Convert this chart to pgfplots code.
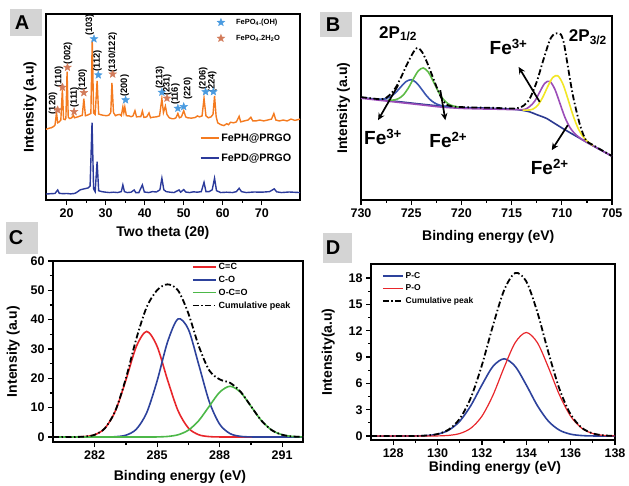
\documentclass[border=0pt]{standalone}
\usepackage{fontspec}
\setmainfont{Liberation Sans}
\usepackage{pgfplots}
\pgfplotsset{compat=1.18}
\usetikzlibrary{arrows.meta}

\definecolor{xorange}{HTML}{F47B20}
\definecolor{xnavy}{HTML}{2B3A9B}
\definecolor{starblue}{HTML}{4A9BE0}
\definecolor{starbrown}{HTML}{D27B5A}
\definecolor{bnavy}{HTML}{2B3990}
\definecolor{bblue}{HTML}{3A55B0}
\definecolor{bgreen}{HTML}{5DBB46}
\definecolor{bpurple}{HTML}{9B4DB8}
\definecolor{byellow}{HTML}{F2E625}
\definecolor{cred}{HTML}{E8262B}
\definecolor{cblue}{HTML}{2D429C}
\definecolor{cgreen}{HTML}{4CB848}
\definecolor{lettergray}{HTML}{D4D4D4}

% filled five-point star
\pgfdeclareplotmark{fstar}{%
  \pgfpathmoveto{\pgfpointpolar{90}{\pgfplotmarksize}}%
  \pgfpathlineto{\pgfpointpolar{126}{0.42\pgfplotmarksize}}%
  \pgfpathlineto{\pgfpointpolar{162}{\pgfplotmarksize}}%
  \pgfpathlineto{\pgfpointpolar{198}{0.42\pgfplotmarksize}}%
  \pgfpathlineto{\pgfpointpolar{234}{\pgfplotmarksize}}%
  \pgfpathlineto{\pgfpointpolar{270}{0.42\pgfplotmarksize}}%
  \pgfpathlineto{\pgfpointpolar{306}{\pgfplotmarksize}}%
  \pgfpathlineto{\pgfpointpolar{342}{0.42\pgfplotmarksize}}%
  \pgfpathlineto{\pgfpointpolar{18}{\pgfplotmarksize}}%
  \pgfpathlineto{\pgfpointpolar{54}{0.42\pgfplotmarksize}}%
  \pgfpathclose
  \pgfusepathqfillstroke
}

\pgfplotsset{
  panel/.style={
    scale only axis, anchor=south west, clip=false,
    axis line style={line width=1.5pt},
    tick align=outside, tick pos=left,
    major tick length=5pt, minor tick length=3pt,
    major tick style={line width=1.3pt, black},
    minor tick style={line width=1.2pt, black},
    tick label style={font=\fontsize{12.5}{13}\selectfont\bfseries},
    /pgf/number format/assume math mode=true,
    label style={font=\fontsize{14}{15}\selectfont\bfseries},
    xlabel style={anchor=center},
    ylabel style={anchor=center},
    legend cell align=left,
  },
  cum/.style={black, line width=1.8pt, dash pattern=on 6pt off 2.5pt on 1.5pt off 2.5pt, smooth},
  fit/.style={line width=1.6pt, smooth},
  linelegend/.style={legend image code/.code={\draw[##1] (0pt,0pt) -- (#1,0pt);}},
}
\tikzset{
  peaklabel/.style={rotate=90, anchor=west, inner sep=0pt, font=\fontsize{9.3}{10}\selectfont\bfseries},
  felabel/.style={font=\fontsize{19}{20}\selectfont\bfseries},
  fearrow/.style={line width=1.7pt, -{Stealth[length=7pt,width=6.5pt]}},
}

\begin{document}
\begin{tikzpicture}
\useasboundingbox (0pt,0pt) rectangle (629pt,-486pt);

% panel letters
\fill[lettergray] (10pt,-9pt) rectangle (42pt,-36pt);
\node[font=\fontsize{20}{20}\selectfont\bfseries] at (22pt,-23pt) {A};
\fill[lettergray] (320pt,-12pt) rectangle (352pt,-37pt);
\node[font=\fontsize{20}{20}\selectfont\bfseries] at (333pt,-25pt) {B};
\fill[lettergray] (6pt,-222pt) rectangle (38pt,-254pt);
\node[font=\fontsize{20}{20}\selectfont\bfseries] at (16pt,-238pt) {C};
\fill[lettergray] (323pt,-233pt) rectangle (352pt,-263pt);
\node[font=\fontsize{20}{20}\selectfont\bfseries] at (333pt,-248pt) {D};

% ---------------- A: XRD ----------------
\begin{axis}[panel, at={(46pt,-200pt)}, width=254pt, height=186pt,
  xmin=14.7, xmax=79.8, ymin=0, ymax=100,
  xtick={20,30,...,70}, minor x tick num=1, ytick=\empty,
  xlabel={Two theta (2θ)}, ylabel={Intensity (a.u)},
  xlabel style={at={(axis description cs:0.46,-0.176)}},
  ylabel style={at={(axis description cs:-0.063,0.5)}},
  linelegend=18pt,
  legend style={at={(axis description cs:0.605,0.37)}, anchor=north west,
    draw=none, fill=none, inner sep=0pt,
    font=\fontsize{10.8}{12}\selectfont\bfseries, row sep=7pt},
]
\addplot[xorange, line width=1.4pt, sharp plot] coordinates {
(14.7,38.0) (15.5,38.6) (16.0,38.8) (16.5,39.3) (17.0,40.2) (17.4,47.0) (17.7,41.5)
(18.1,42.0) (18.5,43.0) (18.9,59.5) (19.2,43.5) (19.6,43.2) (19.8,44.0) (20.1,69.0)
(20.4,44.5) (20.8,43.8) (21.3,44.2) (21.7,45.5) (22.0,44.2) (22.5,44.5) (23.0,44.8)
(23.5,45.2) (24.0,45.5) (24.4,54.5) (24.8,45.3) (25.5,45.8) (26.2,46.5) (26.55,86.0)
(26.9,46.8) (27.3,46.0) (27.8,64.0) (28.2,46.2) (28.8,45.8) (29.5,45.5) (30.2,45.3)
(30.8,45.6) (31.3,47.0) (31.6,63.0) (32.0,47.0) (32.5,45.3) (33.0,45.8) (33.6,46.0)
(34.0,45.3) (34.4,50.0) (34.65,47.0) (34.9,50.0) (35.3,45.3) (36.0,45.2) (36.5,44.8)
(37.0,45.2) (37.5,48.0) (37.9,44.7) (38.5,44.8) (39.0,44.8) (39.4,47.8) (39.8,44.4)
(40.5,44.7) (41.1,46.8) (41.5,44.2) (42.0,44.5) (43.0,44.7) (43.8,45.2) (44.4,54.5)
(44.8,47.0) (45.3,50.5) (45.7,46.0) (46.3,44.2) (47.0,43.7) (47.5,43.7) (48.0,44.2)
(48.5,46.5) (48.9,44.2) (49.4,44.7) (50.0,48.0) (50.5,44.7) (51.0,44.2) (52.0,44.0)
(53.0,44.4) (53.5,45.2) (54.0,44.7) (54.7,45.2) (55.2,54.7) (55.7,45.2) (56.3,44.2)
(57.0,44.7) (57.5,46.0) (57.9,56.0) (58.3,45.0) (58.7,41.5) (59.5,40.5) (60.3,40.0)
(61.0,41.0) (61.5,40.5) (62.0,41.8) (62.8,41.5) (63.5,42.0) (64.2,45.0) (64.6,42.0)
(65.5,42.5) (66.5,43.0) (67.2,44.5) (67.7,42.5) (68.5,42.5) (69.5,43.0) (70.5,42.5)
(71.5,43.0) (72.5,43.5) (73.1,46.5) (73.6,43.0) (74.5,42.5) (75.5,43.0) (76.5,42.5)
(77.5,43.5) (78.5,42.8) (79.8,43.5)
};
\addlegendentry{FePH@PRGO}
\addplot[xnavy, line width=1.4pt, sharp plot] coordinates {
(14.7,3.2) (16.0,3.4) (17.0,3.5) (17.7,5.4) (18.1,3.6) (19.0,3.4) (20.0,3.5)
(21.0,3.3) (22.0,3.5) (22.5,4.0) (23.5,5.5) (24.5,6.0) (25.5,6.5) (26.0,7.5)
(26.5,41.6) (26.9,6.0) (27.3,4.5) (27.8,20.6) (28.2,5.0) (29.0,4.5) (30.0,4.2)
(31.0,4.0) (32.0,4.2) (33.0,4.0) (34.0,4.5) (34.4,8.1) (34.8,4.5) (35.5,4.0)
(36.5,4.2) (37.3,5.4) (37.7,4.0) (38.5,4.0) (39.4,8.1) (39.9,4.3) (41.0,4.0)
(42.0,4.5) (43.0,4.3) (43.9,5.5) (44.4,11.7) (44.9,5.5) (45.5,4.5) (46.5,4.2)
(47.5,4.0) (48.8,5.4) (49.2,4.2) (50.0,5.6) (50.5,4.3) (51.5,4.0) (52.5,4.4)
(53.5,4.2) (54.5,4.5) (55.2,9.5) (55.7,4.5) (56.5,4.5) (57.3,5.5) (57.9,11.7)
(58.4,5.0) (59.5,4.0) (61.0,4.2) (62.5,4.0) (63.5,4.5) (64.2,6.3) (64.8,4.5)
(66.0,4.0) (68.0,4.3) (70.0,4.2) (72.0,4.5) (73.2,6.0) (73.8,4.4) (75.0,4.0)
(77.0,4.3) (79.8,4.0)
};
\addlegendentry{FePD@PRGO}
\end{axis}

% A: phase markers, their legend and the hkl labels
\begin{axis}[scale only axis, anchor=south west, at={(46pt,-200pt)}, width=254pt, height=186pt,
  xmin=14.7, xmax=79.8, ymin=0, ymax=100, hide axis, clip=false,
  legend image code/.code={\path (0pt,0pt) (16pt,0pt); \draw[#1] plot coordinates {(3pt,0pt)};},
  legend style={at={(axis description cs:0.673,0.985)}, anchor=north west,
    draw=none, fill=none, inner sep=0pt,
    font=\fontsize{7.5}{8}\selectfont\bfseries, row sep=5pt},
  legend cell align=left,
]
\addplot[only marks, mark=fstar, mark size=4pt, draw=starblue, fill=starblue] coordinates {
(27.0,86.6) (28.1,67.2) (35.1,53.8) (44.4,57.9) (48.5,49.3) (50.0,50.2) (55.6,58.2) (57.6,58.2)
};
\addlegendentry{FePO\textsubscript{4}.(OH)}
\addplot[only marks, mark=fstar, mark size=4pt, draw=starbrown, fill=starbrown] coordinates {
(17.7,48.4) (18.9,60.6) (20.2,71.3) (21.9,47.5) (24.4,57.7) (31.8,67.7) (45.7,54.7)
};
\addlegendentry{FePO\textsubscript{4}.2H\textsubscript{2}O}
\node[peaklabel] at (axis cs:16.5,46) {(120)};
\node[peaklabel] at (axis cs:18.0,60.5) {(110)};
\node[peaklabel] at (axis cs:20.3,73) {(002)};
\node[peaklabel] at (axis cs:22.0,49.5) {(111)};
\node[peaklabel] at (axis cs:24.1,58.5) {(120)};
\node[peaklabel] at (axis cs:25.9,88.2) {(103)};
\node[peaklabel] at (axis cs:27.9,69) {(112)};
\node[peaklabel] at (axis cs:31.8,68.5) {(130/122)};
\node[peaklabel] at (axis cs:34.9,55.5) {(200)};
\node[peaklabel] at (axis cs:43.9,60) {(213)};
\node[peaklabel] at (axis cs:45.8,56) {(231)};
\node[peaklabel] at (axis cs:47.9,51) {(116)};
\node[peaklabel] at (axis cs:51.1,54) {(220)};
\node[peaklabel] at (axis cs:55.0,59.5) {(206)};
\node[peaklabel] at (axis cs:57.3,57.5) {(224)};
\end{axis}

% ---------------- B: Fe 2p ----------------
\begin{axis}[panel, at={(361pt,-200pt)}, width=251pt, height=184pt,
  xmin=705, xmax=730, x dir=reverse, ymin=0, ymax=100,
  xtick={705,710,...,730}, minor x tick num=1, ytick=\empty,
  xlabel={Binding energy (eV)}, ylabel={Intensity (a.u)},
  xlabel style={at={(axis description cs:0.507,-0.203)}},
  ylabel style={at={(axis description cs:-0.07,0.5)}},
]
\addplot[bnavy, fit] coordinates {
(730,55.7) (728,54.5) (726,53.3) (724,52.1) (722,51.0) (720,50.3) (718,50.0)
(716,49.7) (715,49.4) (714,48.8) (713.2,47.9) (712.5,46.4) (712,45.4) (711.5,44.3)
(711,42.6) (710.5,40.9) (710,39.2) (709,36.0) (708,32.9) (707,29.8) (706,26.8) (705,23.8)
};
\addplot[bpurple, fit] coordinates {
(730,55.3) (728,54.1) (726,52.9) (724,51.7) (722,50.5) (720,49.8) (718,49.5)
(716,49.3) (715,49.1) (714.7,49.1) (714.2,49.14) (713.7,49.23) (713.2,50.77)
(712.7,53.68) (712.2,58.66) (711.7,63.41) (711.2,64.5) (710.7,60.31) (710.2,52.76)
(709.7,45.08) (709.2,39.47) (708.7,36.03) (708.2,33.74) (707.7,31.95) (707,29.8)
(706,26.8) (705,23.8)
};
\addplot[bblue, fit] coordinates {
(728.5,54.9) (728,54.84) (727.5,55.18) (727,56.35) (726.5,58.61) (726,61.68)
(725.5,64.42) (725,65.36) (724.5,63.83) (724,60.51) (723.5,56.85) (723,54.0)
(722.5,52.24) (722,51.31) (721.5,50.88) (721,50.62)
};
\addplot[bgreen, fit] coordinates {
(727.3,54.23) (726.8,54.3) (726.3,55.02) (725.8,57.0) (725.3,60.71) (724.8,65.67)
(724.3,70.12) (723.8,71.76) (723.3,69.53) (722.8,64.5) (722.3,58.95) (721.8,54.7)
(721.3,52.25) (720.8,51.06) (720.3,50.53)
};
\addplot[byellow, fit] coordinates {
(713.9,48.87) (713.4,48.85) (712.9,49.33) (712.4,51.45) (711.9,55.81) (711.4,61.69)
(710.9,66.56) (710.4,67.5) (709.9,63.16) (709.4,55.09) (708.9,46.31) (708.4,39.25)
(707.9,34.53) (707.4,31.65) (706.9,29.67)
};
\addplot[cum] coordinates {
(730,55.9) (729,55.3) (728,54.7) (727.6,55.2) (727,57.8) (726.5,61.5) (726,66.8)
(725.5,72.8) (725,78.2) (724.6,81.8) (724.3,82.6) (723.9,80.3) (723.4,74.5)
(722.9,67.5) (722.4,60.5) (721.9,54.5) (721.4,51.6) (720.6,50.7) (719,50.3)
(717,50.1) (715,49.7) (714.3,50.1) (713.8,51.3) (713.2,55.0) (712.5,64.2)
(711.85,75.9) (711.2,86.8) (710.8,90.0) (710.5,90.6) (710.1,90.0) (709.8,85.5)
(709.5,76.0) (708.9,57.0) (708.2,41.0) (707.6,32.5) (707,30.2) (706,27.0) (705,23.9)
};
\node[font=\fontsize{17}{18}\selectfont\bfseries] at (axis cs:726.3,90.4) {2P\textsubscript{1/2}};
\node[font=\fontsize{17}{18}\selectfont\bfseries] at (axis cs:707.4,88.6) {2P\textsubscript{3/2}};
\node[felabel] at (axis cs:715.3,83.2) {Fe\textsuperscript{3+}};
\node[felabel] at (axis cs:727.8,34.4) {Fe\textsuperscript{3+}};
\node[felabel] at (axis cs:721.3,32.5) {Fe\textsuperscript{2+}};
\node[felabel] at (axis cs:711.2,18.1) {Fe\textsuperscript{2+}};
\draw[fearrow] (axis cs:712.2,53.3) -- (axis cs:714.3,72.3);
\draw[fearrow] (axis cs:726.3,62.4) -- (axis cs:728.3,43.4);
\draw[fearrow] (axis cs:722.1,59.7) -- (axis cs:721.6,43.4);
\draw[fearrow] (axis cs:709.4,40.7) -- (axis cs:711.0,27.1);
\end{axis}

% ---------------- C: C 1s ----------------
\begin{axis}[panel, at={(53pt,-442pt)}, width=250pt, height=181pt,
  xmin=280, xmax=292, ymin=-1.7, ymax=60,
  xtick={282,285,288,291}, minor x tick num=1,
  ytick={0,10,...,60}, minor y tick num=1,
  xlabel={Binding energy (eV)}, ylabel={Intensity (a.u)},
  xlabel style={at={(axis description cs:0.508,-0.192)}},
  ylabel style={at={(axis description cs:-0.159,0.5)}},
  linelegend=23pt,
  legend style={at={(axis description cs:0.555,1.0)}, anchor=north west,
    draw=none, fill=none, inner sep=0pt,
    font=\fontsize{9}{10}\selectfont\bfseries, row sep=1pt},
]
\addplot[cred, fit] coordinates {
(280,0) (281,0.02) (281.5,0.14) (282,0.76) (282.5,3.05) (283,8.98) (283.5,19.42)
(284,30.85) (284.5,36) (285,30.85) (285.5,19.42) (286,8.98) (286.5,3.05) (287,0.76)
(287.5,0.14) (288,0.02) (289,0) (292,0)
};
\addlegendentry{C=C}
\addplot[cblue, fit] coordinates {
(280,0) (282.5,0.01) (283,0.11) (283.5,0.62) (284,2.66) (284.5,8.34) (285,19.19)
(285.5,32.43) (286,40.25) (286.5,36.69) (287,24.56) (287.5,12.08) (288,4.36)
(288.5,1.16) (289,0.23) (289.5,0.03) (290,0) (292,0)
};
\addlegendentry{C-O}
\addplot[cgreen, fit] coordinates {
(280,0) (284.5,0) (285,0.04) (285.5,0.19) (286,0.76) (286.5,2.34) (287,5.62)
(287.5,10.49) (288,15.27) (288.5,17.3) (289,15.27) (289.5,10.49) (290,5.62)
(290.5,2.34) (291,0.76) (291.5,0.19) (292,0.04)
};
\addlegendentry{O-C=O}
\addplot[cum] coordinates {
(280,0) (280.5,0) (281,0.02) (281.5,0.14) (282,0.76) (282.5,3.06) (283,9.09)
(283.5,20.04) (284,33.51) (284.5,44.34) (285,50.08) (285.5,52.04) (286,49.99)
(286.5,42.08) (287,30.94) (287.5,22.71) (288,19.65) (288.5,18.46) (289,15.5)
(289.5,10.52) (290,5.62) (290.5,2.34) (291,0.76) (291.5,0.19) (292,0.04)
};
\addlegendentry{Cumulative peak}
\end{axis}

% ---------------- D: P 2p ----------------
\begin{axis}[panel, at={(371pt,-440pt)}, width=244pt, height=176pt,
  xmin=127, xmax=138, ymin=-0.45, ymax=19.6,
  xtick={128,130,...,138}, minor x tick num=1,
  ytick={0,3,...,18}, minor y tick num=1,
  xlabel={Binding energy (eV)}, ylabel={Intensity(a.u)},
  xlabel style={at={(axis description cs:0.508,-0.161)}},
  ylabel style={at={(axis description cs:-0.175,0.5)}},
  linelegend=20pt,
  legend style={at={(axis description cs:0.044,0.965)}, anchor=north west,
    draw=none, fill=none, inner sep=0pt,
    font=\fontsize{8.5}{9.5}\selectfont\bfseries, row sep=1pt},
]
\addplot[cblue, fit] coordinates {
(127,0) (128,0) (129,0.012) (129.5,0.056) (130,0.213) (130.5,0.665) (131,1.685)
(131.5,3.47) (132,5.82) (132.5,7.94) (133,8.8) (133.5,7.94) (134,5.82) (134.5,3.47)
(135,1.685) (135.5,0.665) (136,0.213) (136.5,0.056) (137,0.012) (138,0)
};
\addlegendentry{P-C}
\addplot[cred, line width=1.2pt, smooth] coordinates {
(127,0) (129,0) (130,0.016) (130.5,0.075) (131,0.286) (131.5,0.892) (132,2.26)
(132.5,4.66) (133,7.81) (133.5,10.64) (134,11.8) (134.5,10.64) (135,7.81)
(135.5,4.66) (136,2.26) (136.5,0.892) (137,0.286) (137.5,0.075) (138,0.016)
};
\addlegendentry{P-O}
\addplot[cum] coordinates {
(127,0) (128,0) (129,0.012) (129.5,0.06) (130,0.229) (130.5,0.74) (131,1.97)
(131.5,4.36) (132,8.08) (132.5,12.6) (133,16.61) (133.5,18.58) (134,17.62)
(134.5,14.11) (135,9.5) (135.5,5.33) (136,2.47) (136.5,0.95) (137,0.3)
(137.5,0.077) (138,0.016)
};
\addlegendentry{Cumulative peak}
\end{axis}
\end{tikzpicture}
\end{document}
